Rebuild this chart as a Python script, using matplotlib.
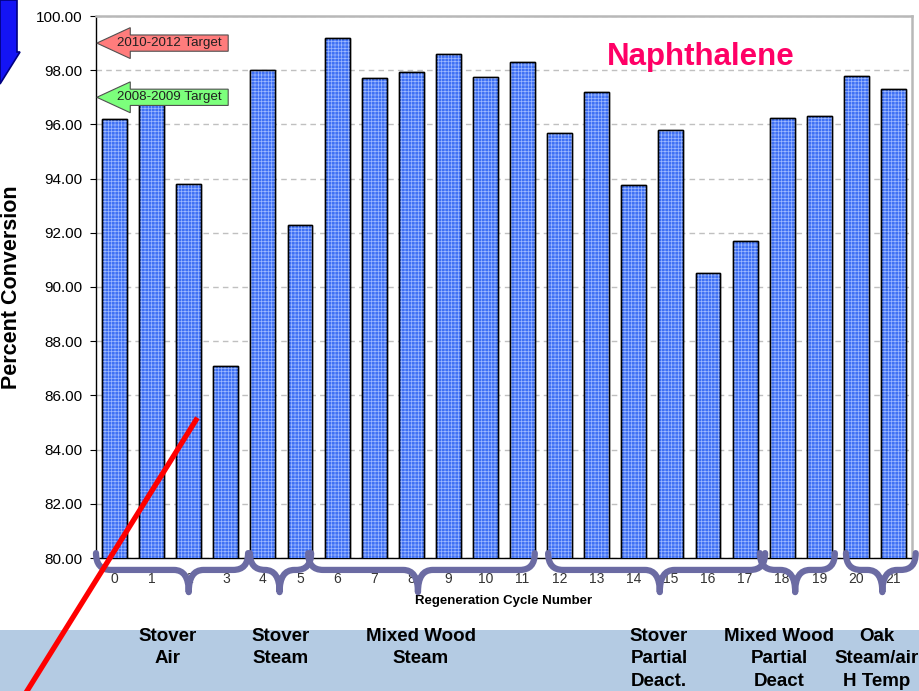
import matplotlib
matplotlib.use("Agg")
import matplotlib.pyplot as plt
from matplotlib.path import Path
from matplotlib.patches import PathPatch, Polygon, Rectangle
from matplotlib.lines import Line2D
from matplotlib.transforms import blended_transform_factory

plt.rcParams['font.family'] = ['Liberation Sans', 'DejaVu Sans']
plt.rcParams['hatch.linewidth'] = 0.5

# naphthalene conversion per regeneration cycle
cycles = list(range(22))
conversion = [96.2, 96.9, 93.8, 87.1, 98.0, 92.3, 99.2, 97.7, 97.95, 98.6, 97.75,
              98.3, 95.7, 97.2, 93.75, 95.8, 90.5, 91.7, 96.25, 96.3, 97.8, 97.3]

# target levels shown as arrows on the left
target_names = ["2010-2012 Target", "2008-2009 Target"]
target_values = [99.0, 97.0]
target_colors = ["#ff7c7c", "#7cff7c"]

# regeneration groups: (left end, tip, right end) in cycle units, and captions
group_spans = [(-0.5, 2.0, 3.6), (3.65, 4.45, 5.3), (5.22, 8.18, 11.33),
               (11.69, 14.7, 17.54), (17.4, 18.35, 19.42), (19.72, 20.7, 21.6)]
group_names = ["Stover\nAir", "Stover\nSteam", "Mixed Wood\nSteam",
               "Stover\nPartial\nDeact.", "Mixed Wood\nPartial\nDeact", "Oak\nSteam/air\nH Temp"]
group_label_x = [168, 281, 421, 659, 779, 877]

W, H = 920, 691
fig = plt.figure(figsize=(W / 100, H / 100), dpi=100)
fig.patch.set_facecolor("white")

# light blue band along the bottom
fig.patches.append(Rectangle((0, 0), 1, (H - 630) / H, transform=fig.transFigure,
                             facecolor="#b4cbe3", edgecolor="none", zorder=0))

ax = fig.add_axes([96 / W, (H - 558) / H, 816 / W, 542 / H])

ax.bar(cycles, conversion, width=0.67, color="#3f70f4", edgecolor="black",
       linewidth=1.0, zorder=3)
ax.bar(cycles, conversion, width=0.67, fill=False, hatch="+++++",
       edgecolor="#9db8ff", linewidth=0, zorder=4)
ax.bar(cycles, conversion, width=0.67, fill=False, edgecolor="black",
       linewidth=1.0, zorder=5)

ax.set_xlim(-0.5, 21.5)
ax.set_ylim(80, 100)
ax.set_yticks(range(80, 101, 2))
ax.yaxis.set_major_formatter('{x:.2f}')
ax.set_xticks(cycles)
ax.tick_params(axis="y", labelsize=11, length=4, pad=6, colors="black")
ax.tick_params(axis="x", labelsize=10, length=0, pad=10, labelcolor="#333333")
ax.grid(axis="y", color="#c0c0c0", linestyle=(0, (4, 3)), linewidth=1.0, zorder=0)
for side in ("top", "right"):
    ax.spines[side].set_color("#b8b8b8")
    ax.spines[side].set_linewidth(1.8)
for side in ("left", "bottom"):
    ax.spines[side].set_color("black")
    ax.spines[side].set_linewidth(1.0)

ax.set_ylabel("Percent Conversion", fontsize=15.5, fontweight="bold")
ax.yaxis.set_label_coords((22 - 96) / 816, 0.5)
ax.set_xlabel("Regeneration Cycle Number", fontsize=9.5, fontweight="bold")
ax.xaxis.set_label_coords(0.5, (558 - 601) / 542)
ax.xaxis.label.set_va("center")

ax.text(0.741, 0.924, "Naphthalene", transform=ax.transAxes, color="#ff0066",
        fontsize=22.5, fontweight="bold", ha="center", va="center")

# target arrows pointing at the y axis
xa = blended_transform_factory(ax.transAxes, ax.transData)
for name, val, col in zip(target_names, target_values, target_colors):
    tip, neck, tail = 0.001, 0.042, 0.162
    body, head = 0.3, 0.57
    pts = [(tip, val), (neck, val + head), (neck, val + body), (tail, val + body),
           (tail, val - body), (neck, val - body), (neck, val - head)]
    ax.add_patch(Polygon(pts, closed=True, transform=xa, facecolor=col,
                         edgecolor="#505050", linewidth=0.8, zorder=6, clip_on=False))
    ax.text(0.09, val, name, transform=xa, fontsize=9.6, ha="center",
            va="center", color="#202020", zorder=7)

# curly braces under the cycle groups
bt = blended_transform_factory(ax.transData, ax.transAxes)
y_top, y_mid, y_bot = 0.009, -0.022, -0.063
r = 0.4
for left, tip, right in group_spans:
    verts = [(left, y_top), (left, y_mid), (left + r, y_mid),
             (tip - r, y_mid), (tip, y_mid), (tip, y_bot),
             (tip, y_mid), (tip + r, y_mid),
             (right - r, y_mid), (right, y_mid), (right, y_top)]
    codes = [Path.MOVETO, Path.CURVE3, Path.CURVE3,
             Path.LINETO, Path.CURVE3, Path.CURVE3,
             Path.CURVE3, Path.CURVE3,
             Path.LINETO, Path.CURVE3, Path.CURVE3]
    ax.add_patch(PathPatch(Path(verts, codes), transform=bt, fill=False,
                           edgecolor="#6b6ba3", linewidth=4.5, capstyle="round",
                           joinstyle="round", zorder=8, clip_on=False))

for name, x in zip(group_names, group_label_x):
    fig.text(x / W, (H - 628) / H, name, ha="center", va="top", fontsize=13.5,
             fontweight="bold", linespacing=1.42, color="black")

# blue arrow fragment in the top-left corner
blue_pts = [(0, 0), (17, 0), (17, 52), (20, 52), (0, 84)]
fig.patches.append(Polygon([(x / W, 1 - y / H) for x, y in blue_pts], closed=True,
                           transform=fig.transFigure, facecolor="#1414f5",
                           edgecolor="#000080", linewidth=1.2, zorder=9))

# red pointer line
fig.add_artist(Line2D([196 / W, 27 / W], [1 - 420 / H, 1 - 691 / H],
                      transform=fig.transFigure, color="red", linewidth=3.8, zorder=10))

fig.savefig("out.png", dpi=100)
